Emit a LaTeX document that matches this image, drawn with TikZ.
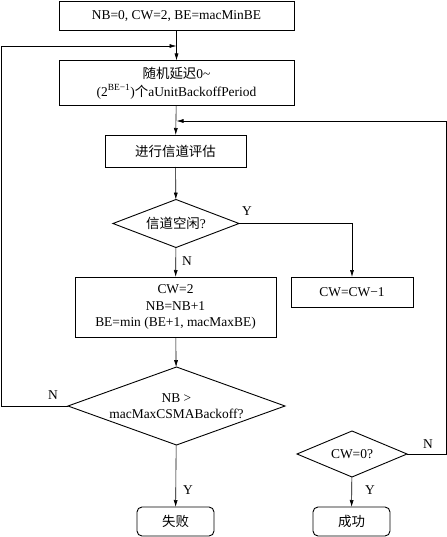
\documentclass[tikz,border=0pt]{standalone}
\usepackage{fontspec}
\setmainfont{Liberation Serif}
\newfontfamily\cjk{Noto Sans CJK SC}
\usetikzlibrary{shapes.geometric,arrows.meta}

\begin{document}
\begin{tikzpicture}[x=1bp,y=-1bp,
    every node/.style={font=\fontsize{13.5}{16}\selectfont, inner sep=0pt, outer sep=0pt},
    box/.style={draw, line width=0.9bp, align=center},
    decision/.style={draw, diamond, line width=0.9bp, align=center},
    term/.style={draw, rounded corners=5bp, line width=0.9bp, minimum width=77bp, minimum height=29bp},
    arr/.style={-{Latex[length=7bp,width=4bp]}, line width=0.6bp}]
    \useasboundingbox (0,0) rectangle (447,537);
    % main column
    \node[box, minimum width=235bp, minimum height=29bp] (init) at (176.5,16) {NB=0, CW=2, BE=macMinBE};
    \node[box, minimum width=235bp, minimum height=45bp, font=\fontsize{13.5}{18}\selectfont] (delay) at (176.5,83) {{\cjk 随机延迟}0\textasciitilde\\(2\textsuperscript{BE−1}){\cjk 个}aUnitBackoffPeriod};
    \node[box, minimum width=141bp, minimum height=32bp] (cca) at (175.5,151) {\cjk 进行信道评估};
    \node[decision, aspect=2.6, minimum width=126bp, minimum height=48bp] (idle) at (176,223.5) {{\cjk 信道空闲}?};
    \node[box, minimum width=201bp, minimum height=60bp, font=\fontsize{13.5}{17}\selectfont] (upd) at (175.5,307) {CW=2\\NB=NB+1\\BE=min (BE+1, macMaxBE)};
    \node[decision, aspect=2.8, minimum width=217bp, minimum height=78bp] (dec) at (176.5,406) {NB >\\macMaxCSMABackoff?};
    \node[term] (fail) at (175.5,521.5) {\cjk 失败};
    % right column
    \node[box, minimum width=122bp, minimum height=30bp] (cwdec) at (352,292) {CW=CW−1};
    \node[decision, aspect=2.4, minimum width=110bp, minimum height=46bp] (cwz) at (352,454) {CW=0?};
    \node[term] (ok) at (351.5,521.5) {\cjk 成功};
    % loop ends
    \coordinate (loopL) at (1,46);
    \coordinate (joinL) at (176.5,46);
    \coordinate (loopR) at (446,121);
    \coordinate (joinR) at (176.5,121);
    % connectors
    \draw[arr] (init) -- (delay);
    \draw[arr] (delay) -- (cca);
    \draw[arr] (cca) -- (idle);
    \draw[arr] (idle) -- (upd);
    \draw[arr] (idle.east) -| (cwdec.north);
    \draw[arr] (upd) -- (dec);
    \draw[arr] (dec) -- (fail);
    \draw[arr] (dec.west) -| (loopL) -- (joinL);
    \draw[arr] (cwz) -- (ok);
    \draw[arr] (cwz.east) -| (loopR) -- (joinR);
    % labels
    \node (yIdle) at (247,211) {Y};
    \node (nIdle) at (187,261) {N};
    \node (nDec) at (53,395) {N};
    \node (yDec) at (188,490) {Y};
    \node (nCwz) at (428,444) {N};
    \node (yCwz) at (370,490) {Y};
\end{tikzpicture}
\end{document}
